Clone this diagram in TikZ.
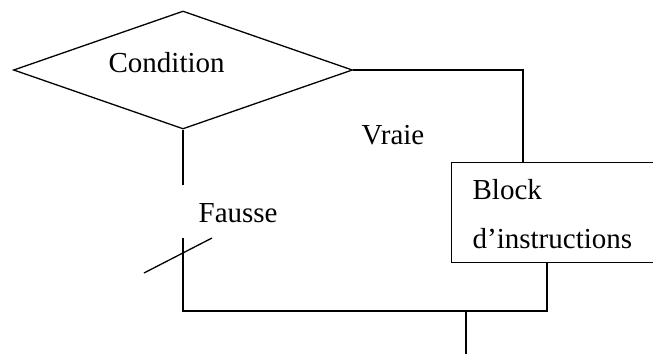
\documentclass[tikz,border=0pt]{standalone}
\usepackage{fontspec}
\setmainfont{Liberation Serif}
\usetikzlibrary{shapes.geometric}
\begin{document}
\begin{tikzpicture}[x=1pt,y=-1pt,line width=1.3pt,
  lbl/.style={anchor=base west,inner sep=0pt,font=\fontsize{29}{34}\selectfont},
  test/.style={diamond,draw,inner sep=0pt,minimum width=339pt,minimum height=118pt},
  blockbox/.style={rectangle,draw,inner sep=0pt,anchor=north west,minimum width=260pt,minimum height=100pt}]
  \useasboundingbox (0,0) rectangle (653,354);
  \clip (0,0) rectangle (653,354);

  % decision and instruction block
  \node[test] (dia) at (183,70) {};
  \node[blockbox] (blk) at (451,162) {};

  % labels
  \node[lbl] (cond) at (108,72) {Condition};
  \node[lbl] (vraie) at (361,144) {Vraie};
  \node[lbl] (fausse) at (198,222) {Fausse};
  \node[lbl] (b1) at (472,199) {Block};
  \node[lbl] (b2) at (472,248) {d’instructions};

  % connector points
  \coordinate (vin) at (523,162);
  \coordinate (fa) at (183,185);
  \coordinate (fb) at (183,238);
  \coordinate (bout) at (547,262);
  \coordinate (rc) at (547,311);
  \coordinate (lc) at (183,311);
  \coordinate (join) at (466,311);
  \coordinate (out) at (466,354);
  \coordinate (s1) at (144,273);
  \coordinate (s2) at (212,238);

  % true branch
  \draw (dia.east) -| (vin);
  % false branch
  \draw (dia.south) -- (fa);
  \draw (bout) -- (rc) -- (lc) -- (fb);
  \draw (s1) -- (s2);
  % exit
  \draw (join) -- (out);
\end{tikzpicture}
\end{document}
